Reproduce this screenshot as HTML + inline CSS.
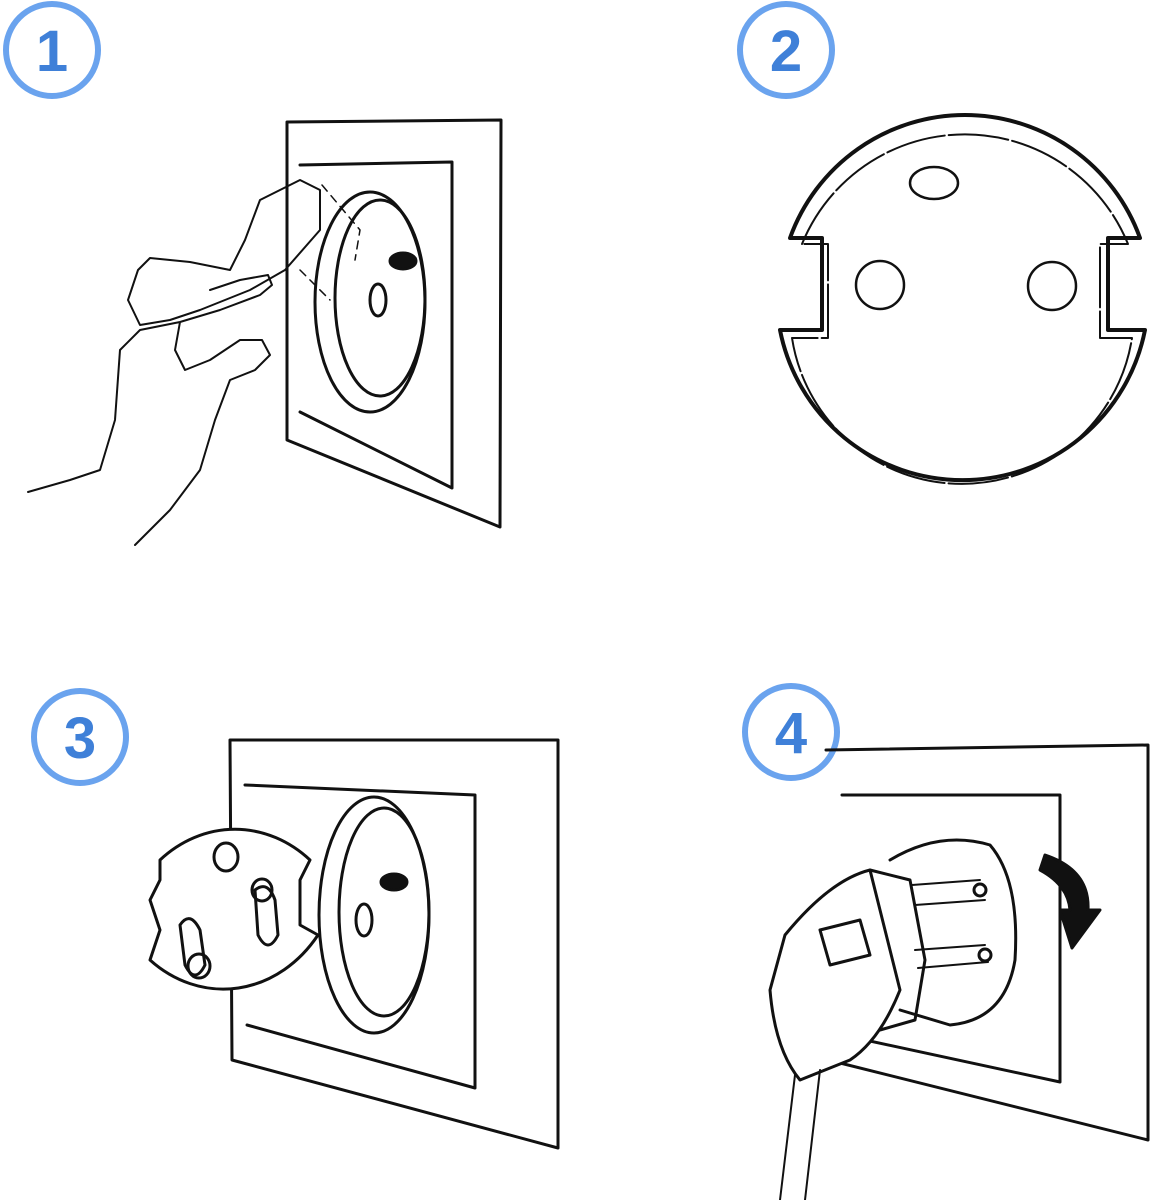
<!DOCTYPE html>
<html><head><meta charset="utf-8"><style>
html,body{margin:0;padding:0;background:#fff;width:1155px;height:1200px;overflow:hidden}
svg{display:block}
.n{font-family:"Liberation Sans",sans-serif;font-weight:bold;font-size:58px;fill:#3f80d8;text-anchor:middle}
</style></head><body>
<svg width="1155" height="1200" viewBox="0 0 1155 1200" fill="none" stroke="#111" stroke-width="3" stroke-linejoin="round" stroke-linecap="round">
<!-- badges -->
<g stroke="#6aa3ee" stroke-width="6">
<circle cx="52" cy="50" r="46"/><circle cx="786" cy="50" r="46"/>
<circle cx="80" cy="737" r="46"/><circle cx="791" cy="732" r="46"/>
</g>
<g stroke="none">
<text class="n" x="52" y="71">1</text><text class="n" x="786" y="71">2</text>
<text class="n" x="80" y="758">3</text><text class="n" x="791" y="753">4</text>
</g>

<!-- Panel 1 -->
<path d="M287 122 L501 120 L500 527 L287 440 Z"/>
<path d="M300 165 L452 162 L452 488 L300 412"/>
<ellipse cx="370" cy="302" rx="55" ry="110"/>
<ellipse cx="380" cy="298" rx="45" ry="98"/>
<ellipse cx="378" cy="300" rx="8" ry="16"/>
<ellipse cx="403" cy="261" rx="13" ry="8" fill="#111"/>
<!-- cloth -->
<path d="M320 190 L300 180 L260 200 L245 240 L230 270 L190 262 L150 258 L138 270 L128 300 L140 325 L170 320 L200 310 L250 290 L285 270 L320 230 Z" stroke-width="2"/>
<path d="M322 185 L360 230 L355 260 M300 270 L330 300" stroke-width="1.5" stroke-dasharray="8 6"/>
<!-- hand -->
<path d="M28 492 L70 480 L100 470 L115 420 L120 350 L140 330 L180 322 L220 310 L260 295 L272 285 L268 275 L240 280 L210 290 M180 322 L175 350 L185 370 L210 360 L240 340 L262 340 L270 355 L255 370 L230 380 L215 420 L200 470 L170 510 L135 545" stroke-width="2"/>

<!-- Panel 2 -->
<path d="M790 238 A186 186 0 0 1 1140 238 L1108 238 L1108 330 L1145 330 A186 186 0 0 1 780 330 L822 330 L822 238 Z" stroke-width="4"/>
<path d="M802 244 A176 176 0 0 1 1128 244 L1100 244 L1100 338 L1132 338 A172 172 0 0 1 792 338 L828 338 L828 244 Z" stroke-width="2" stroke-dasharray="60 4"/>
<ellipse cx="934" cy="183" rx="24" ry="16" stroke-width="2.5"/>
<circle cx="880" cy="285" r="24" stroke-width="2.5"/>
<circle cx="1052" cy="286" r="24" stroke-width="2.5"/>

<!-- Panel 3 -->
<path d="M230 740 L558 740 L558 1148 L232 1060 Z"/>
<path d="M245 785 L475 795 L475 1088 L247 1025"/>
<ellipse cx="374" cy="915" rx="55" ry="118"/>
<ellipse cx="384" cy="912" rx="45" ry="104"/>
<ellipse cx="364" cy="920" rx="8" ry="16"/>
<ellipse cx="394" cy="882" rx="13" ry="8" fill="#111"/>
<path d="M160 860 A120 140 0 0 1 310 860 L300 880 L300 925 L318 935 A120 140 0 0 1 150 960 L160 930 L150 900 L160 880 Z" fill="#fff"/>
<ellipse cx="226" cy="857" rx="12" ry="14"/>
<path d="M180 925 Q190 910 200 930 L205 965 Q195 985 185 965 Z"/>
<path d="M255 890 Q268 880 275 900 L278 935 Q268 955 258 935 Z"/>
<ellipse cx="199" cy="966" rx="11" ry="12"/>
<ellipse cx="262" cy="890" rx="10" ry="11"/>

<!-- Panel 4 -->
<path d="M826 750 L1148 745 L1148 1140 L828 1060"/>
<path d="M842 795 L1060 795 L1060 1082 L842 1035"/>
<path d="M890 860 Q940 830 990 845 Q1020 880 1015 960 Q1005 1020 950 1025 L900 1010"/>
<path d="M870 870 L910 880 L925 960 L915 1020 L880 1030"/>
<path d="M785 935 Q830 880 870 870 L900 990 Q880 1040 850 1060 L800 1080 Q775 1050 770 990 Z" fill="#fff"/>
<path d="M820 930 L860 920 L870 955 L830 965 Z"/>
<path d="M912 885 L980 880 M915 905 L985 900 M915 950 L985 945 M918 968 L988 962" stroke-width="2"/>
<circle cx="980" cy="890" r="6"/><circle cx="985" cy="955" r="6"/>
<path d="M795 1075 L780 1200 M820 1070 L805 1200" stroke-width="2"/>
<path d="M1045 855 Q1090 870 1088 910 L1100 910 L1072 948 L1060 910 L1070 910 Q1068 885 1040 870 Z" fill="#111"/>
</svg>
</body></html>
